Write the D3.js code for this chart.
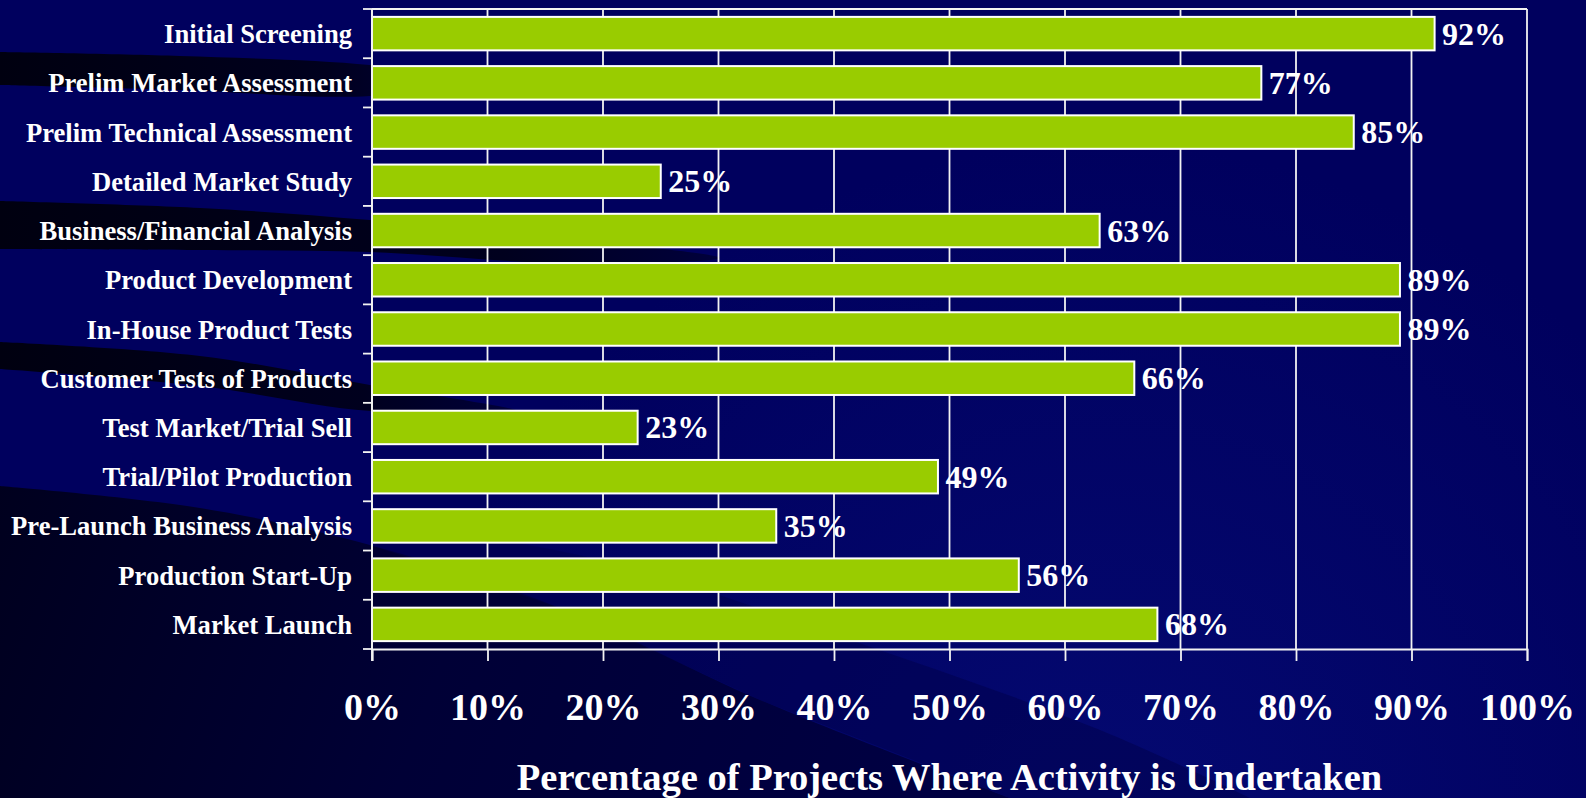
<!DOCTYPE html>
<html>
<head>
<meta charset="utf-8">
<script src="https://cdn.jsdelivr.net/npm/d3@7"></script>
<style>
  html, body { margin: 0; padding: 0; background: #000060; overflow: hidden; }
  svg { display: block; }
  text { font-family: "Liberation Serif", "Times New Roman", serif; font-weight: bold; fill: #ffffff; }
</style>
</head>
<body>
<svg id="chart" width="1586" height="798"></svg>
<script>
// Activities in the new-product process, top to bottom
const categories = [
  "Initial Screening",
  "Prelim Market Assessment",
  "Prelim Technical Assessment",
  "Detailed Market Study",
  "Business/Financial Analysis",
  "Product Development",
  "In-House Product Tests",
  "Customer Tests of Products",
  "Test Market/Trial Sell",
  "Trial/Pilot Production",
  "Pre-Launch Business Analysis",
  "Production Start-Up",
  "Market Launch"
];

// Share of projects where each activity is undertaken (%)
const values = [92, 77, 85, 25, 63, 89, 89, 66, 23, 49, 35, 56, 68];

const tickValues = [0, 10, 20, 30, 40, 50, 60, 70, 80, 90, 100];
const tickLabels = ["0%", "10%", "20%", "30%", "40%", "50%", "60%", "70%", "80%", "90%", "100%"];
const axisTitle = "Percentage of Projects Where Activity is Undertaken";

const W = 1586, H = 798;
const plot = { left: 372, right: 1527, top: 9, bottom: 649 };

const svg = d3.select("#chart");
const defs = svg.append("defs");

// ---------- slide background ----------
const glow = defs.append("radialGradient").attr("id", "glow")
  .attr("gradientUnits", "userSpaceOnUse")
  .attr("cx", 1100).attr("cy", 840).attr("r", 700);
glow.append("stop").attr("offset", "0").attr("stop-color", "#0a168c").attr("stop-opacity", 0.42);
glow.append("stop").attr("offset", "1").attr("stop-color", "#0a168c").attr("stop-opacity", 0);

const shade = defs.append("linearGradient").attr("id", "shade")
  .attr("gradientUnits", "userSpaceOnUse")
  .attr("x1", 0).attr("y1", 480).attr("x2", 900).attr("y2", 798);
shade.append("stop").attr("offset", "0").attr("stop-color", "#00001e");
shade.append("stop").attr("offset", "0.5").attr("stop-color", "#000036");
shade.append("stop").attr("offset", "1").attr("stop-color", "#000042");

const band = defs.append("linearGradient").attr("id", "band")
  .attr("x1", 0).attr("y1", 0).attr("x2", 1).attr("y2", 0);
band.append("stop").attr("offset", "0").attr("stop-color", "#000010");
band.append("stop").attr("offset", "0.7").attr("stop-color", "#00001e");
band.append("stop").attr("offset", "1").attr("stop-color", "#00003c");

svg.append("rect").attr("width", W).attr("height", H).attr("fill", "#00005e");
svg.append("rect").attr("width", W).attr("height", H).attr("fill", "url(#glow)");

const smooth = d3.line().curve(d3.curveCatmullRom.alpha(0.5));

// broad dark sweep in the lower left
const sweepEdge = [[0, 486], [200, 508], [370, 545], [560, 608], [760, 700], [1010, 798]];
svg.append("path")
  .attr("d", smooth(sweepEdge) + `L0,${H}Z`)
  .attr("fill", "url(#shade)");

// a softer mid-tone wedge above the sweep
const wedgeEdge = [[370, 520], [600, 560], [850, 640], [1100, 730], [1250, 798]];
svg.append("path")
  .attr("d", smooth(wedgeEdge) + `L1010,798L760,700L560,608L370,545Z`)
  .attr("fill", "#00004a").attr("opacity", 0.5);

// thin dark swooshes running in from the left edge
const swooshes = [
  { top: [[0, 52], [180, 56], [370, 65], [470, 80]], bottom: [[470, 80], [370, 96], [180, 90], [0, 85]] },
  { top: [[0, 201], [200, 208], [370, 220], [560, 238], [720, 258]], bottom: [[720, 258], [560, 263], [370, 252], [200, 250], [0, 249]] },
  { top: [[0, 342], [200, 356], [370, 385], [520, 412]], bottom: [[520, 412], [370, 411], [200, 386], [0, 369]] }
];
swooshes.forEach(s => {
  const pts = s.top.concat(s.bottom.slice(1));
  svg.append("path")
    .attr("d", smooth(pts) + "Z")
    .attr("fill", "url(#band)");
});

// ---------- scales ----------
const x = d3.scaleLinear().domain([0, 100]).range([plot.left, plot.right]);
const y = d3.scaleBand().domain(categories)
  .range([plot.top, plot.bottom])
  .paddingInner(0.32).paddingOuter(0.16);
const step = y.step();
const boundaries = d3.range(categories.length + 1).map(i => plot.top + i * step);

const lineColor = "#f2f2f2";

// ---------- grid ----------
const grid = svg.append("g");
grid.selectAll("line.v").data(tickValues).join("line")
  .attr("x1", d => x(d)).attr("x2", d => x(d))
  .attr("y1", plot.top).attr("y2", plot.bottom)
  .attr("stroke", lineColor).attr("stroke-width", 1.8);
grid.append("line")
  .attr("x1", plot.left).attr("x2", plot.right)
  .attr("y1", plot.top).attr("y2", plot.top)
  .attr("stroke", lineColor).attr("stroke-width", 1.8);

// ---------- bars ----------
svg.append("g").selectAll("rect").data(values).join("rect")
  .attr("x", x(0))
  .attr("y", (d, i) => y(categories[i]))
  .attr("width", d => x(d) - x(0))
  .attr("height", y.bandwidth())
  .attr("fill", "#99cc00")
  .attr("stroke", "#ffffff").attr("stroke-width", 2);

// value labels
svg.append("g").selectAll("text").data(values).join("text")
  .attr("x", d => x(d) + 7.5)
  .attr("y", (d, i) => y(categories[i]) + y.bandwidth() / 2 + 11)
  .attr("font-size", 32)
  .text(d => d + "%");

// ---------- x axis ----------
const xAxis = svg.append("g")
  .attr("transform", `translate(0,${plot.bottom})`)
  .call(d3.axisBottom(x).tickValues(tickValues).tickSize(12)
    .tickFormat((d, i) => tickLabels[i]));
xAxis.attr("font-family", null).attr("font-size", null);
xAxis.select(".domain").attr("stroke", lineColor).attr("stroke-width", 1.8);
xAxis.selectAll(".tick line").attr("stroke", lineColor).attr("stroke-width", 1.8);
xAxis.selectAll(".tick text")
  .attr("y", 71).attr("dy", null)
  .attr("font-size", 38)
  .attr("fill", null);

// ---------- y axis ----------
const yAxis = svg.append("g")
  .attr("transform", `translate(${plot.left},0)`)
  .call(d3.axisLeft(y).tickSize(0).tickPadding(20));
yAxis.attr("font-family", null).attr("font-size", null);
yAxis.select(".domain").remove();
yAxis.selectAll(".tick text")
  .attr("dy", null).attr("y", 9.5)
  .attr("font-size", 26.6)
  .attr("fill", null);

svg.append("line")
  .attr("x1", plot.left).attr("x2", plot.left)
  .attr("y1", plot.top).attr("y2", plot.bottom + 12)
  .attr("stroke", lineColor).attr("stroke-width", 1.8);
svg.append("g").selectAll("line").data(boundaries).join("line")
  .attr("x1", plot.left - 9).attr("x2", plot.left)
  .attr("y1", d => d).attr("y2", d => d)
  .attr("stroke", lineColor).attr("stroke-width", 1.8);

// ---------- axis title ----------
svg.append("text")
  .attr("x", (plot.left + plot.right) / 2)
  .attr("y", 790)
  .attr("text-anchor", "middle")
  .attr("font-size", 38.5)
  .text(axisTitle);
</script>
</body>
</html>
